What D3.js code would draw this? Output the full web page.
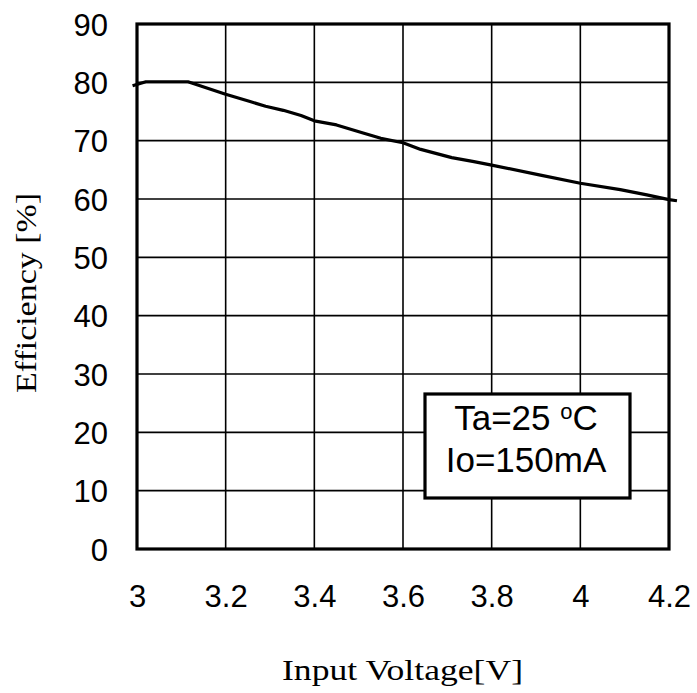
<!DOCTYPE html>
<html>
<head>
<meta charset="utf-8">
<script src="https://cdn.jsdelivr.net/npm/d3@7"></script>
<style>
  html, body { margin: 0; padding: 0; background: #fff; }
  svg { display: block; }
</style>
</head>
<body>
<svg id="chart" width="697" height="693"></svg>
<script>
const voltage = [2.99, 3.02, 3.115, 3.2, 3.255, 3.29, 3.33, 3.37, 3.4, 3.45, 3.51, 3.55, 3.6, 3.64, 3.71, 3.76, 3.8, 3.91, 4.0, 4.09, 4.15, 4.2, 4.218];
const efficiency = [79.4, 80.1, 80.1, 77.95, 76.7, 75.9, 75.2, 74.3, 73.4, 72.7, 71.3, 70.4, 69.65, 68.5, 67.1, 66.4, 65.8, 64.1, 62.7, 61.6, 60.7, 59.9, 59.7];
const xTicks = [3, 3.2, 3.4, 3.6, 3.8, 4, 4.2];
const yTicks = [0, 10, 20, 30, 40, 50, 60, 70, 80, 90];
const xTitle = "Input Voltage[V]";
const yTitle = "Efficiency [%]";
const legendLines = ["Ta=25 ", "Io=150mA"];

const svg = d3.select("#chart");
const L = 137, R = 669, T = 24, B = 549;
const x = d3.scaleLinear().domain([3, 4.2]).range([L, R]);
const y = d3.scaleLinear().domain([0, 90]).range([B, T]);

// grid
const g = svg.append("g");
g.selectAll(".vg").data(xTicks.slice(1, -1)).enter().append("line")
  .attr("x1", d => x(d)).attr("x2", d => x(d)).attr("y1", T).attr("y2", B)
  .attr("stroke", "#000").attr("stroke-width", 1.6);
g.selectAll(".hg").data(yTicks.slice(1, -1)).enter().append("line")
  .attr("y1", d => y(d)).attr("y2", d => y(d)).attr("x1", L).attr("x2", R)
  .attr("stroke", "#000").attr("stroke-width", 1.6);

// curve
const line = d3.line().x((d, i) => x(voltage[i])).y(d => y(d));
svg.append("path").datum(efficiency).attr("d", line)
  .attr("fill", "none").attr("stroke", "#000").attr("stroke-width", 3.2)
  .attr("stroke-linejoin", "round");

// frame
svg.append("rect").attr("x", L).attr("y", T).attr("width", R - L).attr("height", B - T)
  .attr("fill", "none").attr("stroke", "#000").attr("stroke-width", 3.2);

// axes labels via d3 axis (text only)
const xAxis = d3.axisBottom(x).tickValues(xTicks).tickFormat(d3.format("~g")).tickSize(0).tickPadding(0);
const xa = svg.append("g").attr("transform", `translate(0, ${B})`).call(xAxis);
xa.select(".domain").remove();
xa.selectAll("text").attr("y", 58).attr("dy", null)
  .attr("font-family", "Liberation Sans, Arial, sans-serif").attr("font-size", 31).attr("fill", "#000");

const yAxis = d3.axisLeft(y).tickValues(yTicks).tickFormat(d3.format("d")).tickSize(0).tickPadding(0);
const ya = svg.append("g").attr("transform", `translate(${L - 29}, 0)`).call(yAxis);
ya.select(".domain").remove();
ya.selectAll("text").attr("x", 0).attr("dy", "0.36em")
  .attr("font-family", "Liberation Sans, Arial, sans-serif").attr("font-size", 31).attr("fill", "#000");

// titles
svg.append("text").attr("x", 282).attr("y", 680)
  .attr("textLength", 241).attr("lengthAdjust", "spacingAndGlyphs")
  .attr("font-family", "Liberation Serif, DejaVu Serif, serif").attr("font-size", 30).attr("fill", "#000")
  .text(xTitle);
svg.append("text").attr("transform", "translate(36, 393) rotate(-90)")
  .attr("textLength", 200).attr("lengthAdjust", "spacingAndGlyphs")
  .attr("font-family", "Liberation Serif, DejaVu Serif, serif").attr("font-size", 30).attr("fill", "#000")
  .text(yTitle);

// legend box
svg.append("rect").attr("x", 425).attr("y", 394).attr("width", 205).attr("height", 104)
  .attr("fill", "#fff").attr("stroke", "#000").attr("stroke-width", 3.2);
const t1 = svg.append("text").attr("x", 526).attr("y", 430).attr("text-anchor", "middle")
  .attr("font-family", "Liberation Sans, Arial, sans-serif").attr("font-size", 35).attr("fill", "#000");
t1.append("tspan").text(legendLines[0]);
t1.append("tspan").attr("font-size", 22).attr("dy", -11).text("o");
t1.append("tspan").attr("dy", 11).text("C");
svg.append("text").attr("x", 526).attr("y", 472).attr("text-anchor", "middle")
  .attr("font-family", "Liberation Sans, Arial, sans-serif").attr("font-size", 35).attr("fill", "#000")
  .text(legendLines[1]);
</script>
</body>
</html>
